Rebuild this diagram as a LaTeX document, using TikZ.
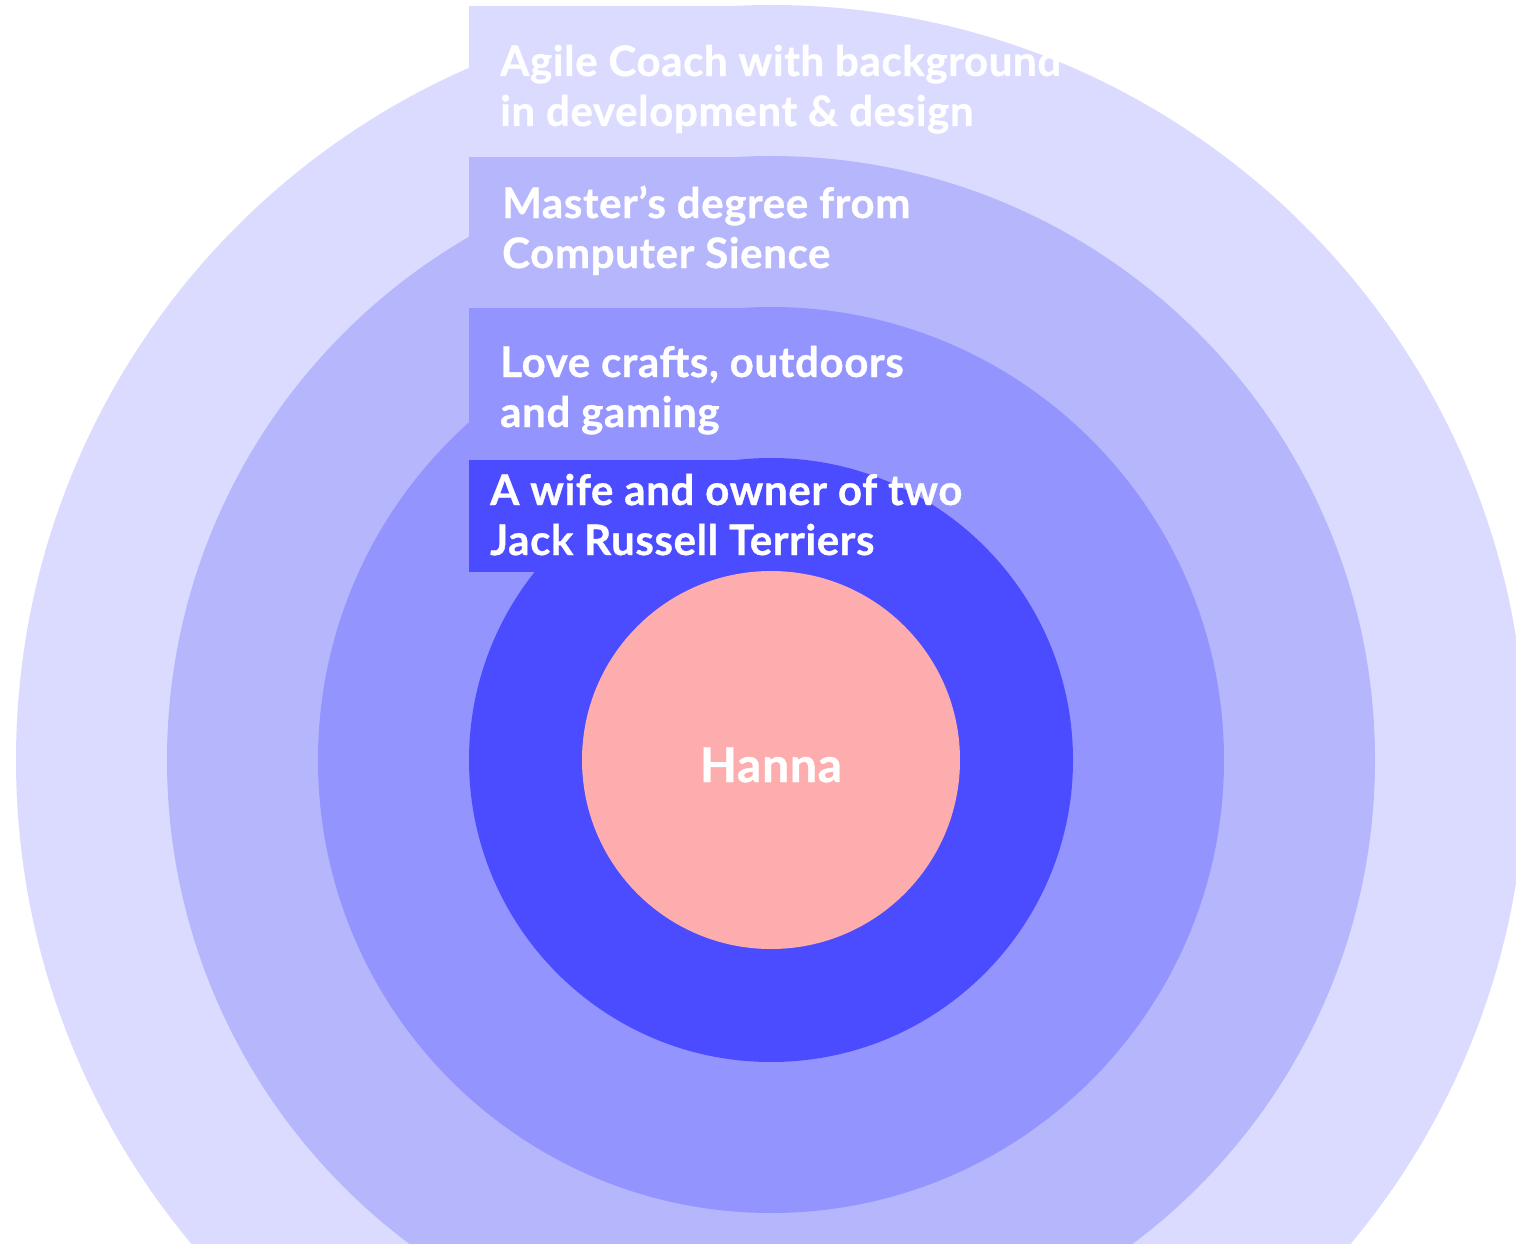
\documentclass[tikz,border=0pt]{standalone}
\usepackage{fontspec}
\setmainfont{Lato}[UprightFont=* Bold, UprightFeatures={FakeBold=0.8, LetterSpace=1.5}]
\definecolor{ringA}{HTML}{DBDBFF}
\definecolor{ringB}{HTML}{B6B6FD}
\definecolor{ringC}{HTML}{9494FF}
\definecolor{ringD}{HTML}{4B4BFF}
\definecolor{core}{HTML}{FDADAD}
\begin{document}
\begin{tikzpicture}[x=1pt,y=-1pt,
  lbl/.style={anchor=base west,align=left,inner sep=0pt,text=white,
    font=\fontsize{42}{50}\selectfont}]
\useasboundingbox (0,0) rectangle (1516,1244);
\clip (0,0) rectangle (1516,1244);
\coordinate (c) at (771,760);
\fill[ringA] (c) circle[radius=755];
\fill[ringA] (469,6) rectangle (771,157);
\fill[ringB] (c) circle[radius=604];
\fill[ringB] (469,157) rectangle (771,308);
\fill[ringC] (c) circle[radius=453];
\fill[ringC] (469,308) rectangle (771,460);
\fill[ringD] (c) circle[radius=302];
\fill[ringD] (469,460) rectangle (771,572);
\fill[core] (c) circle[radius=189];
\node[lbl] (t1) at (500,126) {Agile Coach with background\\in development \& design};
\node[lbl] (t2) at (502,268) {Master’s degree from\\Computer Sience};
\node[lbl] (t3) at (500,427) {Love crafts, outdoors\\and gaming};
\node[lbl] (t4) at (490,555) {A wife and owner of two\\Jack Russell Terriers};
\node[anchor=base,inner sep=0pt,text=white,font=\fontsize{48}{50}\selectfont] (hanna) at (771,782) {Hanna};
\end{tikzpicture}
\end{document}
